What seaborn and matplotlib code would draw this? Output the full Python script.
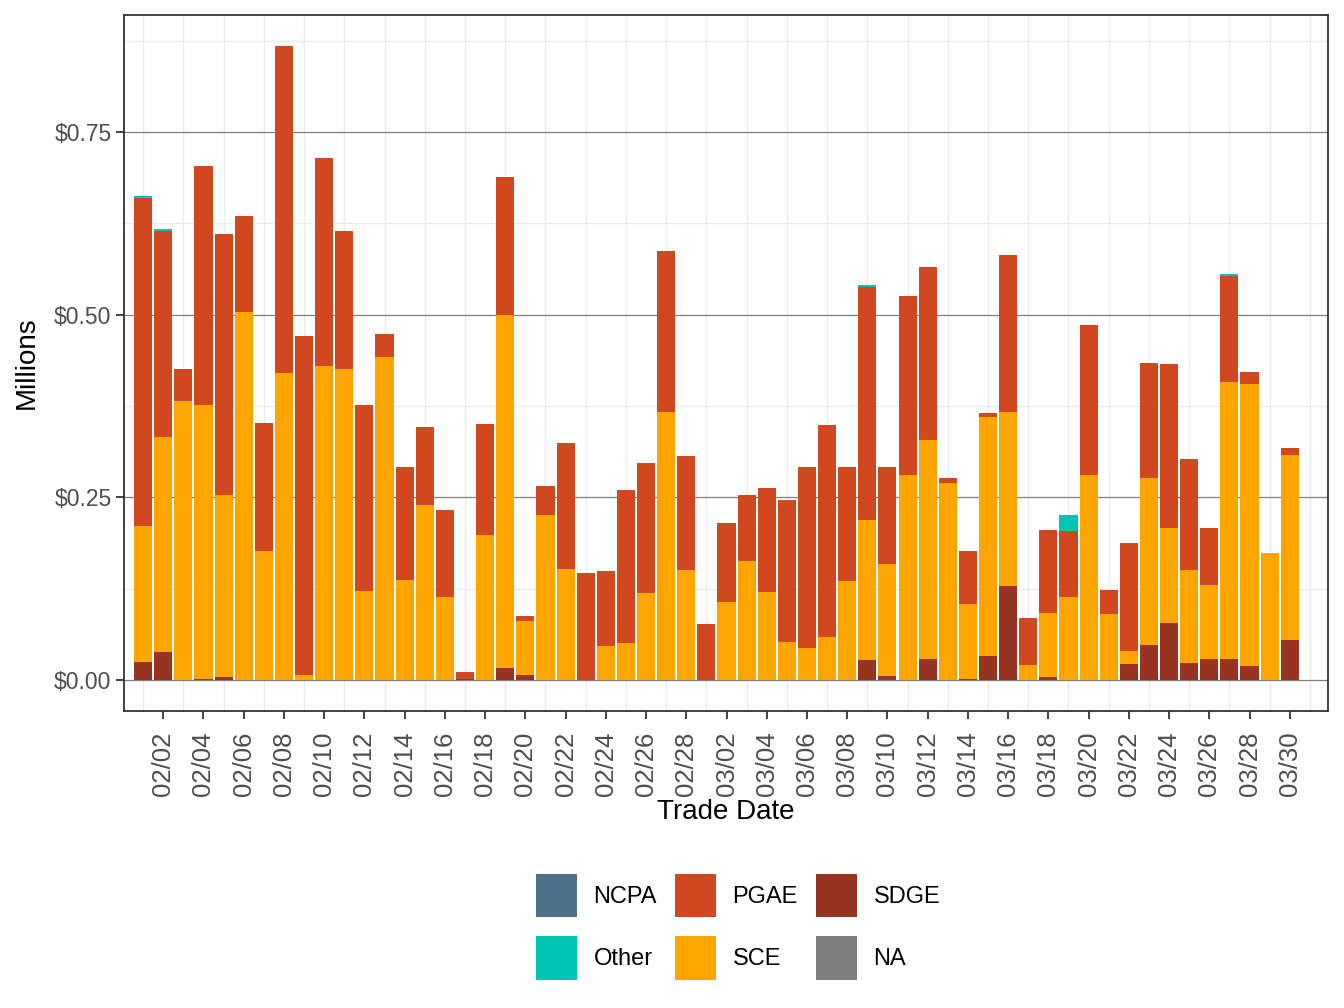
import pandas as pd
import numpy as np
import seaborn as sns
import matplotlib.pyplot as plt
from matplotlib.ticker import FuncFormatter, FixedLocator

# trade dates 02/01 .. 03/30
dates = [f"02/{d:02d}" for d in range(1, 29)] + [f"03/{d:02d}" for d in range(1, 31)]

# values in $ millions
sdge = [0.025, 0.039, 0, 0.002, 0.004, 0, 0, 0, 0, 0, 0, 0, 0, 0,
        0, 0, 0.002, 0, 0.016, 0.007, 0, 0, 0, 0, 0, 0, 0, 0,
        0, 0, 0, 0, 0, 0, 0, 0, 0.027, 0.006, 0, 0.029, 0, 0.002, 0.033,
        0.128, 0, 0.004, 0, 0, 0, 0.022, 0.048, 0.078, 0.023, 0.029, 0.029,
        0.019, 0, 0.055]
sce = [0.186, 0.293, 0.382, 0.375, 0.249, 0.503, 0.177, 0.420, 0.007, 0.430,
       0.425, 0.122, 0.442, 0.137, 0.239, 0.114, 0, 0.199, 0.484, 0.074,
       0.226, 0.152, 0, 0.046, 0.050, 0.119, 0.367, 0.151,
       0, 0.107, 0.163, 0.121, 0.052, 0.044, 0.059, 0.136, 0.192, 0.153,
       0.280, 0.300, 0.269, 0.102, 0.327, 0.239, 0.021, 0.088, 0.114, 0.280,
       0.090, 0.018, 0.229, 0.130, 0.128, 0.101, 0.379, 0.386, 0.174, 0.253]
pgae = [0.449, 0.282, 0.043, 0.327, 0.358, 0.132, 0.175, 0.448, 0.464, 0.285,
        0.189, 0.254, 0.031, 0.155, 0.107, 0.119, 0.009, 0.152, 0.188, 0.006,
        0.040, 0.173, 0.147, 0.103, 0.210, 0.178, 0.220, 0.156,
        0.077, 0.108, 0.090, 0.142, 0.195, 0.247, 0.290, 0.156, 0.319, 0.133,
        0.246, 0.236, 0.007, 0.073, 0.005, 0.214, 0.064, 0.113, 0.090, 0.206,
        0.033, 0.148, 0.157, 0.225, 0.152, 0.078, 0.145, 0.016, 0, 0.010]
other = [0.003, 0.003] + [0] * 34 + [0.003] + [0] * 9 + [0.022] + [0] * 7 + [0.002] + [0] * 3
ncpa = [0] * 58
na = [0] * 58

groups = ["NCPA", "Other", "PGAE", "SCE", "SDGE", "NA"]
colors = {"NCPA": "#4E7388", "Other": "#00C5B4", "PGAE": "#D04720",
          "SCE": "#FFA500", "SDGE": "#983522", "NA": "#7F7F7F"}

series = {"NCPA": ncpa, "Other": other, "PGAE": pgae, "SCE": sce, "SDGE": sdge, "NA": na}
rows = []
for g in groups:
    for i, v in enumerate(series[g]):
        rows.append({"day": i, "date": dates[i], "group": g, "value": v})
df = pd.DataFrame(rows)

sns.set_style("white")
plt.rcParams['font.family'] = ['Liberation Sans', 'DejaVu Sans']
plt.rcParams['text.color'] = 'black'
plt.rcParams['axes.labelcolor'] = 'black'

fig = plt.figure(figsize=(13.44, 10.08), dpi=100)
ax = fig.add_axes([124 / 1344, 1 - 711 / 1008, (1328 - 124) / 1344, (711 - 15) / 1008])

sns.histplot(data=df, x="day", weights="value", hue="group", hue_order=groups,
             multiple="stack", discrete=True, shrink=0.9, palette=colors,
             linewidth=0, alpha=1, ax=ax)

ax.set_xlim(-0.95, 58.9)
ax.set_ylim(-0.0424, 0.910)

# y axis
ax.yaxis.set_major_locator(FixedLocator([0, 0.25, 0.5, 0.75]))
ax.yaxis.set_minor_locator(FixedLocator([0.125, 0.375, 0.625, 0.875]))
ax.yaxis.set_major_formatter(FuncFormatter(lambda v, p: f"${v:.2f}"))
# x axis
ax.set_xticks(list(range(1, 58, 2)))
ax.set_xticklabels(dates[1::2], rotation=90)
ax.xaxis.set_minor_locator(FixedLocator(list(range(0, 60, 2))))

ax.set_axisbelow(True)
ax.grid(False)
ax.grid(axis="y", which="major", color="#7F7F7F", lw=0.9)
ax.grid(axis="y", which="minor", color="#EBEBEB", lw=1.0)
ax.grid(axis="x", which="minor", color="#EBEBEB", lw=1.0)

ax.tick_params(axis="y", which="major", labelsize=16.5, labelcolor="#4D4D4D",
               length=6, width=1.3, color="#333333", pad=3, left=True)
ax.tick_params(axis="x", which="major", labelsize=18.5, labelcolor="#4D4D4D",
               length=6, width=1.3, color="#333333", pad=9, bottom=True)
ax.tick_params(which="minor", length=0)
for s in ax.spines.values():
    s.set_color("#333333")
    s.set_linewidth(1.3)

ax.set_xlabel("Trade Date", fontsize=20, labelpad=2)
ax.set_ylabel("Millions", fontsize=20, labelpad=10)

sns.move_legend(ax, "upper center", bbox_to_anchor=(738 / 1344, 1 - 874 / 1008),
                bbox_transform=fig.transFigure, ncol=3, title=None, frameon=False,
                fontsize=17, handlelength=1.75, handleheight=2.45,
                handletextpad=0.7, columnspacing=0.75, labelspacing=0.8,
                borderpad=0, borderaxespad=0)
for t in ax.get_legend().get_texts():
    t.set_color("black")

fig.savefig("out.png", dpi=100)
